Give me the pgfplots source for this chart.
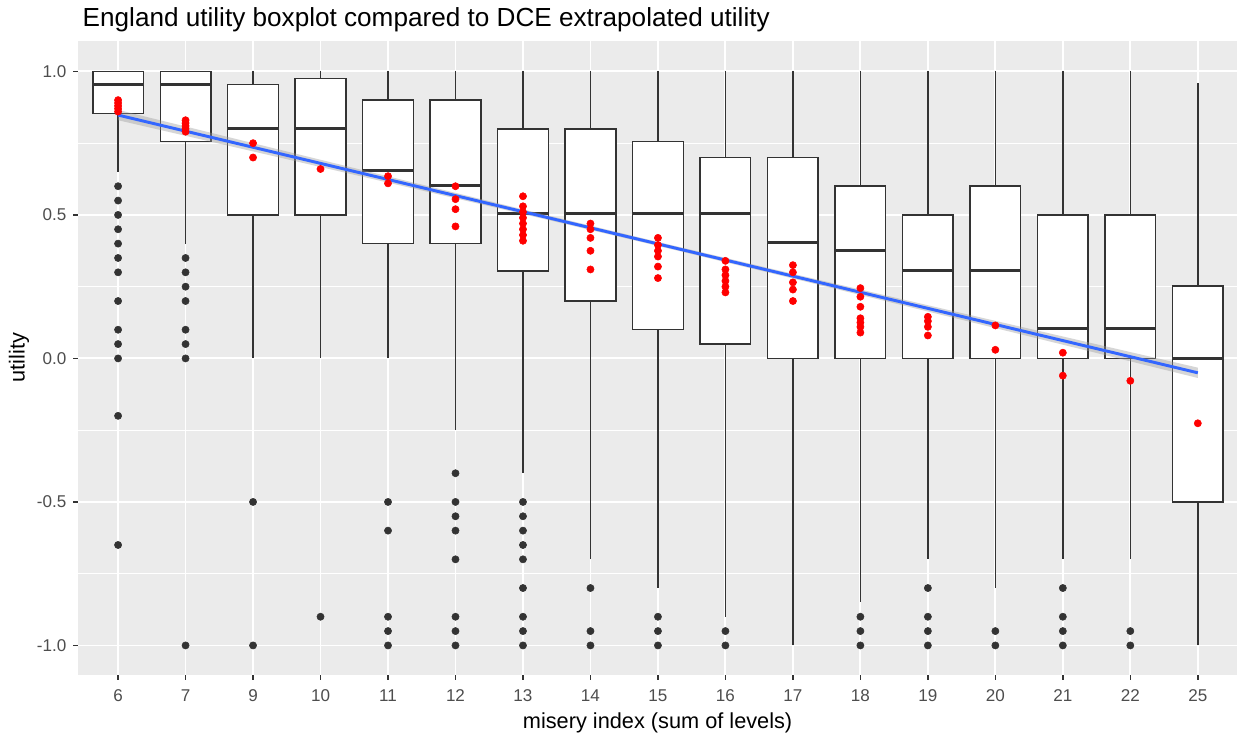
\documentclass[border=0pt]{standalone}
\usepackage{fontspec}
\setmainfont{Liberation Sans}
\usepackage{pgfplots}
\pgfplotsset{compat=1.18}
\usepgfplotslibrary{statistics}
\definecolor{grey20}{HTML}{333333}
\definecolor{grey30}{HTML}{4D4D4D}
\definecolor{bgc}{HTML}{EBEBEB}
\definecolor{smoothblue}{HTML}{3366FF}
\definecolor{segrey}{HTML}{999999}
\pgfplotsset{bxstyle/.style={draw=grey20, line width=1.1pt, fill=white, solid,
  boxplot/draw direction=y,
  boxplot/box extend=0.75, boxplot/whisker extend=0,
  boxplot/every median/.style={line width=2.2pt}}}
\newcommand{\bx}[6]{\addplot[bxstyle, boxplot prepared={draw position=#1, lower whisker=#2, lower quartile=#3, median=#4, upper quartile=#5, upper whisker=#6}] coordinates {};}
\begin{document}
\begin{tikzpicture}
\useasboundingbox (0,0) rectangle (927.75pt,552.75pt);
\begin{axis}[
  at={(58.7pt,46.5pt)}, anchor=south west,
  scale only axis, width=869pt, height=475.7pt,
  xmin=-0.59, xmax=16.58, ymin=-1.103, ymax=1.107,
  axis background/.style={fill=bgc},
  axis line style={draw=none},
  xtick={0,...,16},
  xticklabels={6,7,9,10,11,12,13,14,15,16,17,18,19,20,21,22,25},
  ytick={-1,-0.5,0,0.5,1},
  yticklabels={-1.0,-0.5,0.0,0.5,1.0},
  minor ytick={-0.75,-0.25,0.25,0.75},
  xmajorgrids, ymajorgrids, yminorgrids,
  major grid style={white, line width=1.4pt},
  minor grid style={white, line width=0.7pt},
  tick pos=left, tick align=outside,
  major tick length=3.75pt, minor tick length=0pt,
  tick style={grey20, line width=1.1pt},
  ticklabel style={font=\fontsize{12.8}{14}\selectfont, text=grey30, inner sep=0pt},
  xticklabel style={anchor=north, yshift=-7pt},
  yticklabel style={anchor=east, xshift=-5pt},
  clip=true,
]
% boxes: position, lower whisker, Q1, median, Q3, upper whisker
\bx{0}{0.65}{0.854}{0.956}{1.0}{1.0}
\bx{1}{0.40}{0.755}{0.956}{1.0}{1.0}
\bx{2}{0.0}{0.5}{0.80}{0.955}{1.0}
\bx{3}{0.0}{0.5}{0.80}{0.975}{1.0}
\bx{4}{0.0}{0.4}{0.655}{0.9}{1.0}
\bx{5}{-0.25}{0.4}{0.604}{0.9}{1.0}
\bx{6}{-0.4}{0.304}{0.505}{0.8}{1.0}
\bx{7}{-0.7}{0.2}{0.505}{0.8}{1.0}
\bx{8}{-0.8}{0.1}{0.505}{0.755}{1.0}
\bx{9}{-0.9}{0.05}{0.505}{0.7}{1.0}
\bx{10}{-1.0}{0.0}{0.403}{0.7}{1.0}
\bx{11}{-0.85}{0.0}{0.377}{0.6}{1.0}
\bx{12}{-0.7}{0.0}{0.305}{0.5}{1.0}
\bx{13}{-0.8}{0.0}{0.305}{0.6}{1.0}
\bx{14}{-0.7}{0.0}{0.104}{0.5}{1.0}
\bx{15}{-0.7}{0.0}{0.104}{0.5}{1.0}
\bx{16}{-1.0}{-0.5}{0.0}{0.252}{0.958}
% outliers
\addplot[only marks, mark=*, mark size=2.7pt, color=grey20] coordinates {
(0,0.6) (0,0.55) (0,0.5) (0,0.45) (0,0.4) (0,0.35) (0,0.3) (0,0.2) (0,0.1) (0,0.05) (0,0) (0,-0.2) (0,-0.65)
(1,0.35) (1,0.3) (1,0.25) (1,0.2) (1,0.1) (1,0.05) (1,0) (1,-1)
(2,-0.5) (2,-1)
(3,-0.9)
(4,-0.5) (4,-0.6) (4,-0.9) (4,-0.95) (4,-1)
(5,-0.4) (5,-0.5) (5,-0.55) (5,-0.6) (5,-0.7) (5,-0.9) (5,-0.95) (5,-1)
(6,-0.5) (6,-0.55) (6,-0.6) (6,-0.65) (6,-0.7) (6,-0.8) (6,-0.9) (6,-0.95) (6,-1)
(7,-0.8) (7,-0.95) (7,-1)
(8,-0.9) (8,-0.95) (8,-1)
(9,-0.95) (9,-1)
(11,-0.9) (11,-0.95) (11,-1)
(12,-0.8) (12,-0.9) (12,-0.95) (12,-1)
(13,-0.95) (13,-1)
(14,-0.8) (14,-0.9) (14,-0.95) (14,-1)
(15,-0.95) (15,-1)
};
% DCE extrapolated utilities
\addplot[only marks, mark=*, mark size=2.7pt, color=red] coordinates {
(0,0.90) (0,0.89) (0,0.88) (0,0.87) (0,0.86)
(1,0.83) (1,0.82) (1,0.81) (1,0.80) (1,0.79)
(2,0.75) (2,0.70)
(3,0.66)
(4,0.635) (4,0.61)
(5,0.60) (5,0.555) (5,0.52) (5,0.46)
(6,0.565) (6,0.53) (6,0.51) (6,0.49) (6,0.47) (6,0.45) (6,0.43) (6,0.41)
(7,0.47) (7,0.45) (7,0.42) (7,0.375) (7,0.31)
(8,0.42) (8,0.395) (8,0.375) (8,0.355) (8,0.32) (8,0.28)
(9,0.34) (9,0.31) (9,0.29) (9,0.27) (9,0.25) (9,0.23)
(10,0.325) (10,0.30) (10,0.265) (10,0.24) (10,0.20)
(11,0.245) (11,0.215) (11,0.18) (11,0.14) (11,0.125) (11,0.11) (11,0.09)
(12,0.145) (12,0.13) (12,0.11) (12,0.08)
(13,0.115) (13,0.03)
(14,0.02) (14,-0.06)
(15,-0.078)
(16,-0.226)
};
% confidence band
\addplot[draw=none, fill=segrey, fill opacity=0.4] coordinates {
(0,0.866) (2,0.750) (4,0.6344) (6,0.5193) (8,0.406) (10,0.2948) (12,0.1853) (14,0.0765) (16,-0.0321)
(16,-0.0681) (14,0.0479) (12,0.1636) (10,0.2786) (8,0.392) (6,0.5031) (4,0.6127) (2,0.7214) (0,0.830)
} -- cycle;
% linear fit
\addplot[smoothblue, line width=2.2pt] coordinates {(0,0.848) (16,-0.0501)};
\end{axis}
\node[anchor=base west, font=\fontsize{19.6}{22}\selectfont] at (58.5pt,532.7pt) {England utility boxplot compared to DCE extrapolated utility};
\node[anchor=base, font=\fontsize{16.3}{19}\selectfont] at (493.2pt,6.5pt) {misery index (sum of levels)};
\node[anchor=base, rotate=90, font=\fontsize{16.3}{19}\selectfont] at (18.5pt,284.4pt) {utility};
\end{tikzpicture}
\end{document}
